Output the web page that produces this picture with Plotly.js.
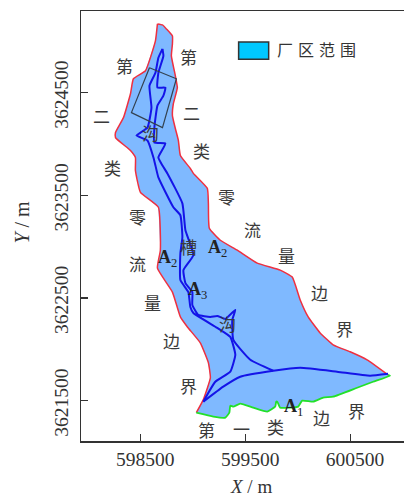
<!DOCTYPE html>
<html><head><meta charset="utf-8">
<script src="https://cdn.plot.ly/plotly-3.0.1.min.js"></script>
<style>html,body{margin:0;padding:0;background:#fff;overflow:hidden}</style></head>
<body><div id="chart" style="width:404px;height:497px"></div>
<script>
const eastX=[598662,598710,598748,598805,598805,598795,598833,598852,598814,598805,598833,598862,598881,598976,599005,599138,599148,599157,599262,599424,599614,599833,599948,600024,600100,600214,600338,600500,600662,600862];
const eastY=[3625170,3625160,3625121,3625053,3624976,3624859,3624665,3624549,3624393,3624277,3624151,3624034,3623888,3623762,3623714,3623568,3623422,3623180,3623063,3622966,3622840,3622772,3622704,3622481,3622316,3622160,3622044,3621976,3621898,3621752];
const southX=[600862,600881,600719,600567,600338,600243,600148,600043,600005,599929,599833,599805,599795,599786,599710,599576,599452,599386,599357,599348,599310,599195,599033];
const southY=[3621752,3621743,3621684,3621626,3621539,3621529,3621490,3621500,3621442,3621432,3621432,3621490,3621490,3621442,3621393,3621432,3621471,3621442,3621451,3621383,3621335,3621345,3621383];
const westX=[599033,599100,599167,599148,599071,598948,598881,598805,598662,598690,598671,598500,598452,598452,598405,598262,598262,598338,598405,598433,598548,598643,598662];
const westY=[3621383,3621510,3621723,3621869,3622063,3622218,3622316,3622558,3622791,3622966,3623384,3623529,3623743,3623869,3623937,3624063,3624112,3624257,3624490,3624636,3624714,3625005,3625170];
const gullyWestX=[598710,598671,598643,598586,598605,598567,598462,598567,598624,598643,598671,598814,598881,598900,598881,598881,598957,598976,599005,599233,599357,599405,599357,599214,599100];
const gullyWestY=[3624927,3624840,3624694,3624568,3624354,3624160,3624083,3624034,3623869,3623791,3623675,3623384,3623306,3623092,3622937,3622675,3622558,3622413,3622354,3622209,3622121,3621947,3621782,3621684,3621490];
const gullyEastX=[598710,598719,598671,598662,598738,598719,598662,598633,598633,598738,598671,598710,598757,598900,598929,599005,598910,598929,598995,598995,599052,599167,599233,599310,599405,599376,599386,599548,599767];
const gullyEastY=[3624927,3624859,3624694,3624549,3624549,3624471,3624374,3624160,3624015,3624005,3623869,3623791,3623714,3623422,3623160,3622918,3622772,3622646,3622558,3622432,3622335,3622316,3622325,3622296,3622384,3622287,3622092,3621898,3621791];
const gullySouthX=[599100,599290,599452,599767,600024,600376,600690,600862];
const gullySouthY=[3621490,3621636,3621733,3621791,3621820,3621782,3621743,3621762];
const plantX=[598586,598843,598710,598414,598586];
const plantY=[3624743,3624636,3624160,3624306,3624743];
const labelText=["第","第","二","二","类","类","零","零","流","流","量","量","边","边","界","界","第","一","类","边","界","沟","槽","沟"];
const labelX=[598348,598957,598129,598986,598233,599081,598471,599319,598471,599567,598614,599890,598795,600205,598957,600443,599129,599462,599786,600224,600557,598595,598957,599329];
const labelY=[3624762,3624850,3624277,3624306,3623772,3623937,3623296,3623490,3622840,3623170,3622461,3622918,3622083,3622558,3621646,3622199,3621218,3621228,3621248,3621335,3621403,3624112,3623005,3622248];
const zoneLetter=["A","A","A","A"];
const zoneSub=["2","2","3","1"];
const zoneX=[598757,599233,599043,599957];
const zoneY=[3622888,3622985,3622578,3621432];
const xTicks=[598500,599500,600500];
const yTicks=[3621500,3622500,3623500,3624500];
const legendLabel="厂区范围";

const blue="#1414e8", red="#ee3040", green="#22e02a";
const line=(x,y,color,w)=>({x,y,type:"scatter",mode:"lines",line:{color,width:w,shape:"spline",smoothing:0.4},hoverinfo:"skip",showlegend:false});
const traces=[
 {x:eastX.concat(southX,westX),y:eastY.concat(southY,westY),type:"scatter",mode:"lines",fill:"toself",fillcolor:"#7fb9ff",line:{width:0,color:"#7fb9ff"},hoverinfo:"skip",showlegend:false},
 line(eastX,eastY,red,1.5),line(westX,westY,red,1.5),line(southX,southY,green,1.8),
 line(gullyWestX,gullyWestY,blue,2),line(gullyEastX,gullyEastY,blue,2),line(gullySouthX,gullySouthY,blue,2),
 {x:plantX,y:plantY,type:"scatter",mode:"lines",line:{color:"#33414f",width:1.2},hoverinfo:"skip",showlegend:false}
];
const cjk='"Noto Sans CJK SC","Noto Sans CJK JP",sans-serif';
const serif='"Liberation Serif",serif';
const anns=labelText.map((t,i)=>({x:labelX[i],y:labelY[i],text:t,showarrow:false,font:{family:cjk,size:17,color:"#3a3a3a"}}));
zoneLetter.forEach((t,i)=>anns.push({x:zoneX[i],y:zoneY[i],text:"<b>"+t+"</b><sub>"+zoneSub[i]+"</sub>",showarrow:false,font:{family:serif,size:18,color:"#222"}}));
anns.push({xref:"paper",yref:"paper",x:0.7356,y:0.911,xanchor:"center",yanchor:"middle",text:legendLabel,showarrow:false,font:{family:cjk,size:16,color:"#333"}});
anns.push({xref:"paper",yref:"paper",x:0.525,y:-0.105,yanchor:"middle",text:"<i>X</i> / m",showarrow:false,font:{family:serif,size:19,color:"#333"}});
anns.push({xref:"paper",yref:"paper",x:-0.183,y:0.51,xanchor:"center",yanchor:"middle",textangle:-90,text:"<i>Y</i> / m",showarrow:false,font:{family:serif,size:20,color:"#333"}});
const pad="\u00a0\u00a0";
const layout={
 width:404,height:497,margin:{l:80.5,r:0,t:10.5,b:55.5},paper_bgcolor:"#fff",plot_bgcolor:"#fff",showlegend:false,
 xaxis:{range:[597933,601014],tickmode:"array",tickvals:xTicks,ticktext:xTicks.map(v=>pad+v),ticks:"inside",ticklen:7,tickwidth:1.2,tickcolor:"#333",showgrid:false,zeroline:false,showline:true,linecolor:"#333",linewidth:1.5,mirror:true,tickfont:{family:serif,size:19.5,color:"#333"}},
 yaxis:{range:[3621107,3625296],tickmode:"array",tickvals:yTicks,ticktext:yTicks.map(v=>v+pad),ticks:"inside",ticklen:7,tickwidth:1.2,tickcolor:"#333",tickangle:-90,ticklabelstandoff:4,showgrid:false,zeroline:false,showline:true,linecolor:"#333",linewidth:1.5,mirror:false,tickfont:{family:serif,size:19.5,color:"#333"}},
 shapes:[{type:"rect",xref:"paper",yref:"paper",x0:0.488,x1:0.581,y0:0.888,y1:0.928,fillcolor:"#00c8ff",line:{color:"#333",width:1.5}}],
 annotations:anns
};
Plotly.newPlot("chart",traces,layout,{displayModeBar:false,staticPlot:true}).then(()=>{
 document.querySelectorAll(".annotation-text").forEach(el=>{
  if(el.textContent===legendLabel) el.style.letterSpacing="5px";
 });
});
</script></body></html>
